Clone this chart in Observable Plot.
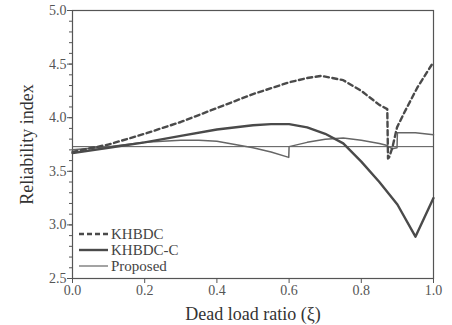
<!DOCTYPE html>
<html><head><meta charset="utf-8">
<script src="https://cdn.jsdelivr.net/npm/d3@7"></script>
<script src="https://cdn.jsdelivr.net/npm/@observablehq/plot@0.6"></script>
<style>
html,body{margin:0;padding:0;background:#fff;}
#chart{position:relative;width:452px;height:325px;}
</style>
</head><body><div id="chart"></div>
<script>
// KHBDC (dashed)
const khbdcX = [0, 0.1, 0.2, 0.3, 0.4, 0.5, 0.6, 0.65, 0.69, 0.75, 0.8, 0.85, 0.872, 0.874, 0.877, 0.886, 0.899, 0.918, 0.955, 1.0];
const khbdcY = [3.68, 3.75, 3.85, 3.96, 4.09, 4.22, 4.33, 4.37, 4.39, 4.35, 4.25, 4.12, 4.08, 3.62, 3.63, 3.72, 3.91, 4.04, 4.28, 4.52];
// KHBDC-C (thick solid)
const khbdcCX = [0, 0.1, 0.2, 0.3, 0.4, 0.5, 0.55, 0.6, 0.65, 0.7, 0.75, 0.8, 0.85, 0.9, 0.95, 1.0];
const khbdcCY = [3.67, 3.72, 3.77, 3.83, 3.89, 3.93, 3.94, 3.94, 3.91, 3.85, 3.76, 3.59, 3.40, 3.19, 2.89, 3.25];
// Proposed (thin)
const propX = [0, 0.1, 0.2, 0.3, 0.35, 0.4, 0.5, 0.55, 0.599, 0.6, 0.65, 0.7, 0.75, 0.8, 0.85, 0.872, 0.886, 0.899, 0.9, 0.95, 1.0];
const propY = [3.70, 3.73, 3.77, 3.79, 3.79, 3.78, 3.72, 3.68, 3.63, 3.73, 3.77, 3.80, 3.81, 3.79, 3.76, 3.74, 3.71, 3.72, 3.86, 3.86, 3.84];
// target reliability (horizontal reference)
const targetX = [0, 1.0];
const targetY = [3.73, 3.73];

const xTicks = [0, 0.2, 0.4, 0.6, 0.8, 1.0];
const yTicks = [2.5, 3.0, 3.5, 4.0, 4.5, 5.0];
const yMinor = d3.range(25, 51).map(v => v / 10);

const legendNames = ["KHBDC", "KHBDC-C", "Proposed"];

const toRows = (xs, ys) => xs.map((x, i) => ({x, y: ys[i]}));
const col = "#4a4a4a";
const serif = "'Liberation Serif', 'DejaVu Serif', serif";

const plot = Plot.plot({
  width: 452, height: 325,
  marginLeft: 72, marginRight: 19, marginTop: 10, marginBottom: 47,
  style: {background: "#fff"},
  x: {domain: [0, 1]},
  y: {domain: [2.5, 5.0]},
  marks: [
    Plot.frame({stroke: "#555", strokeWidth: 1.2}),
    Plot.line(toRows(targetX, targetY), {x: "x", y: "y", stroke: "#555", strokeWidth: 1}),
    Plot.line(toRows(propX, propY), {x: "x", y: "y", stroke: "#666", strokeWidth: 1.5}),
    Plot.line(toRows(khbdcCX, khbdcCY), {x: "x", y: "y", stroke: col, strokeWidth: 2.4}),
    Plot.line(toRows(khbdcX, khbdcY), {x: "x", y: "y", stroke: col, strokeWidth: 2.4, strokeDasharray: "5,3.5"}),
    Plot.axisY({ticks: yMinor, tickFormat: () => "", tickSize: 3, stroke: "#555", label: null}),
    Plot.axisX({ticks: xTicks, tickFormat: d3.format(".1f"), tickSize: 5, tickPadding: 2, fontSize: 14, fill: "#555", stroke: "#555", label: null}),
    Plot.axisY({ticks: yTicks, tickFormat: d3.format(".1f"), tickSize: 5, tickPadding: 1, fontSize: 14, fill: "#555", stroke: "#555", label: null}),
    Plot.axisX({ticks: [], label: "Dead load ratio (ξ)", labelArrow: "none", labelAnchor: "center", labelOffset: 41, fontSize: 18, fill: "#333", tickSize: 0}),
    Plot.axisY({ticks: [], label: "Reliability index", labelArrow: "none", labelAnchor: "center", labelOffset: 52, fontSize: 18, fill: "#333", tickSize: 0})
  ]
});

// legend inside the plot, lower left
const svg = d3.select(plot);
const leg = svg.append("g").attr("font-size", 15).attr("fill", "#444").attr("text-anchor", "start");
const styles = [
  {w: 2.4, dash: "5,3", c: col},
  {w: 2.4, dash: null, c: col},
  {w: 1.2, dash: null, c: "#666"}
];
legendNames.forEach((name, i) => {
  const y = 234 + i * 16;
  const l = leg.append("line").attr("x1", 79).attr("x2", 108).attr("y1", y).attr("y2", y)
    .attr("stroke", styles[i].c).attr("stroke-width", styles[i].w);
  if (styles[i].dash) l.attr("stroke-dasharray", styles[i].dash);
  leg.append("text").attr("x", 111).attr("y", y).attr("dy", "0.35em").attr("text-anchor", "start").text(name);
});
svg.attr("font-family", serif);
svg.selectAll("text").attr("font-family", serif).style("font-family", serif);

document.getElementById("chart").appendChild(plot);
</script>
</body></html>
